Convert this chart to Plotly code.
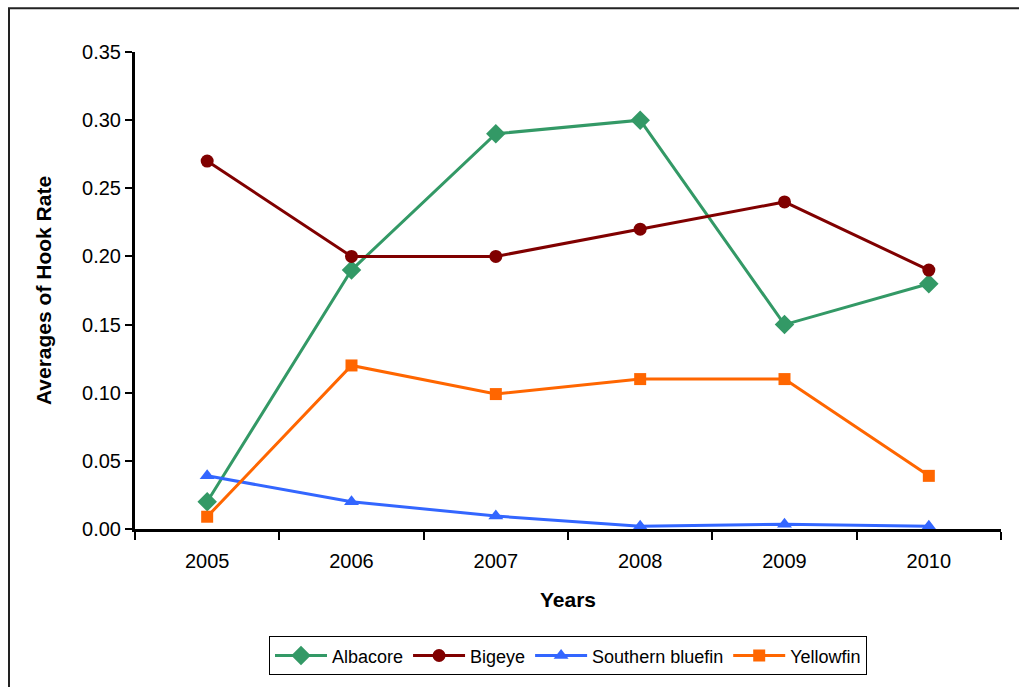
import plotly.graph_objects as go

# Average hook rate by species and year
years = [2005, 2006, 2007, 2008, 2009, 2010]
albacore = [0.02, 0.19, 0.29, 0.30, 0.15, 0.18]
bigeye = [0.27, 0.20, 0.20, 0.22, 0.24, 0.19]
southern_bluefin = [0.039, 0.02, 0.0095, 0.002, 0.0035, 0.002]
yellowfin = [0.009, 0.12, 0.099, 0.11, 0.11, 0.039]
y_ticks = [0.0, 0.05, 0.10, 0.15, 0.20, 0.25, 0.30, 0.35]

series = [
    ("Albacore", albacore, "#339966", "diamond", 15),
    ("Bigeye", bigeye, "#800000", "circle", 13),
    ("Southern bluefin", southern_bluefin, "#3366FF", "triangle-up", 13),
    ("Yellowfin", yellowfin, "#FF6600", "square", 12),
]

fig = go.Figure()
for name, vals, color, symbol, size in series:
    fig.add_trace(go.Scatter(
        x=years, y=vals, name=name, mode="lines+markers",
        line=dict(color=color, width=3),
        marker=dict(symbol=symbol, size=size, color=color),
    ))

W, H = 1019, 687
ml, mr, mt, mb = 135, 18, 52, 155
pw, ph = W - ml - mr, H - mt - mb

# Outer chart frame (open at right and bottom)
fx0 = (9 - ml) / pw
fy1 = 1 + (mt - 8) / ph
fig.add_shape(type="rect", xref="paper", yref="paper",
              x0=fx0, x1=1 + (mr + 20) / pw, y0=-(mb + 20) / ph, y1=fy1,
              line=dict(color="#222222", width=2), layer="below")

font_family = "Liberation Sans, Arial, sans-serif"

fig.update_layout(
    width=W, height=H,
    margin=dict(l=ml, r=mr, t=mt, b=mb),
    paper_bgcolor="white", plot_bgcolor="white",
    font=dict(family=font_family, color="black", size=20),
    showlegend=True,
    legend=dict(
        orientation="h", x=0.5, xanchor="center", y=-0.225, yanchor="top",
        bordercolor="black", borderwidth=1, font=dict(size=18),
        itemwidth=52, tracegroupgap=0,
    ),
    xaxis=dict(
        range=[2004.5, 2010.5], tickmode="array", tickvals=years,
        ticktext=[str(y) for y in years], tickfont=dict(size=20),
        ticks="outside", ticklen=12, tickcolor="rgba(0,0,0,0)",
        showline=True, linecolor="black", linewidth=3,
        showgrid=False, zeroline=False,
        minor=dict(tickmode="linear", tick0=2004.5, dtick=1, ticks="outside",
                   ticklen=8, tickwidth=2, tickcolor="black", showgrid=False),
        title=dict(text="<b>Years</b>", font=dict(size=21), standoff=22),
    ),
    yaxis=dict(
        range=[0, 0.35], tickmode="array", tickvals=y_ticks,
        tickformat=".2f", tickfont=dict(size=20),
        ticks="outside", ticklen=7, tickwidth=2,
        tickcolor="black", showline=True, linecolor="black", linewidth=3,
        showgrid=False, zeroline=False,
        title=dict(text="<b>Averages of Hook Rate</b>", font=dict(size=21), standoff=25),
    ),
)

fig.write_html("out.html")
